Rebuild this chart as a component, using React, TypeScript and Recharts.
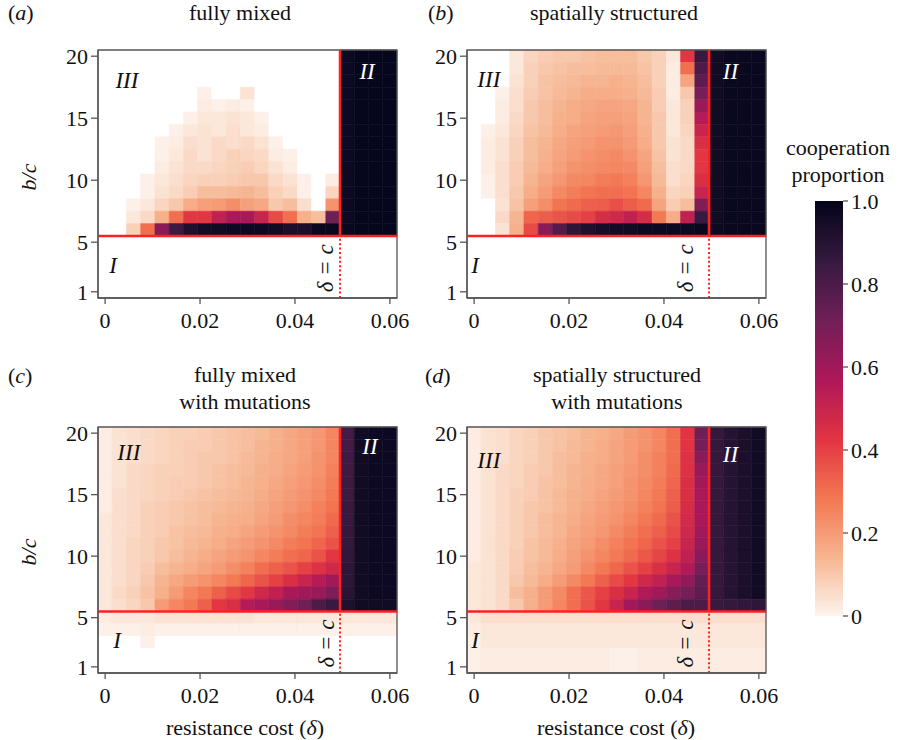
import React from 'react';
import { ComposedChart, XAxis, YAxis, ReferenceArea, ReferenceLine, ReferenceDot, Scatter } from 'recharts';

const FONT = "'Liberation Serif', 'Times New Roman', serif";
const RED = '#ff2020';
const AXIS = '#555555';

// x categories: resistance cost δ (cell centres)
const deltaValues = [0, 0.003, 0.006, 0.009, 0.012, 0.015, 0.018, 0.021, 0.024, 0.027, 0.03, 0.033, 0.036, 0.039, 0.042, 0.045, 0.048, 0.051, 0.054, 0.057, 0.06];
// y categories: b/c (top row first)
const bcValues = [20, 19, 18, 17, 16, 15, 14, 13, 12, 11, 10, 9, 8, 7, 6, 5, 4, 3, 2, 1];
const xTicks = [0, 0.02, 0.04, 0.06];
const yTicks = [1, 5, 10, 15, 20];
const colorbarTicks = [0, 0.2, 0.4, 0.6, 0.8, 1];

// cooperation proportion in percent, rows b/c = 20 .. 1, columns δ = 0 .. 0.06
const panelA: number[][] = [
  [0, 0, 0, 0, 0, 0, 0, 0, 0, 0, 0, 0, 0, 0, 0, 0, 0, 97, 99, 99, 99],
  [0, 0, 0, 0, 0, 0, 0, 0, 0, 0, 0, 0, 0, 0, 0, 0, 0, 97, 99, 99, 99],
  [0, 0, 0, 0, 0, 0, 0, 0, 0, 0, 0, 0, 0, 0, 0, 0, 0, 97, 99, 99, 99],
  [0, 0, 0, 0, 0, 0, 0, 1, 0, 0, 4, 0, 0, 0, 0, 0, 0, 97, 99, 99, 99],
  [0, 0, 0, 0, 0, 0, 0, 2, 1, 2, 1, 0, 0, 0, 0, 0, 0, 97, 99, 99, 99],
  [0, 0, 0, 0, 0, 0, 1, 3, 3, 4, 3, 1, 0, 0, 0, 0, 0, 97, 99, 99, 99],
  [0, 0, 0, 0, 0, 1, 3, 4, 3, 5, 3, 2, 0, 0, 0, 0, 0, 97, 99, 99, 99],
  [0, 0, 0, 0, 1, 2, 5, 4, 6, 5, 6, 4, 1, 0, 0, 0, 0, 97, 99, 99, 99],
  [0, 0, 0, 0, 1, 3, 6, 4, 6, 8, 7, 6, 2, 1, 0, 0, 0, 97, 99, 99, 99],
  [0, 0, 0, 0, 2, 4, 6, 6, 7, 8, 9, 7, 4, 2, 0, 0, 0, 97, 99, 99, 99],
  [0, 0, 0, 1, 3, 5, 7, 8, 8, 9, 10, 10, 6, 4, 1, 0, 2, 97, 99, 99, 99],
  [0, 0, 0, 1, 4, 6, 9, 12, 12, 13, 14, 12, 8, 6, 1, 0, 7, 97, 99, 99, 99],
  [0, 0, 1, 3, 7, 10, 16, 19, 20, 23, 19, 17, 10, 12, 5, 0, 22, 97, 99, 99, 99],
  [0, 0, 3, 6, 15, 30, 42, 42, 52, 57, 58, 50, 38, 30, 15, 12, 72, 97, 99, 99, 99],
  [0, 0, 8, 30, 65, 84, 92, 95, 96, 97, 97, 97, 96, 93, 93, 98, 98, 98, 99, 99, 99],
  [0, 0, 0, 0, 0, 0, 0, 0, 0, 0, 0, 0, 0, 0, 0, 0, 0, 0, 0, 0, 0],
  [0, 0, 0, 0, 0, 0, 0, 0, 0, 0, 0, 0, 0, 0, 0, 0, 0, 0, 0, 0, 0],
  [0, 0, 0, 0, 0, 0, 0, 0, 0, 0, 0, 0, 0, 0, 0, 0, 0, 0, 0, 0, 0],
  [0, 0, 0, 0, 0, 0, 0, 0, 0, 0, 0, 0, 0, 0, 0, 0, 0, 0, 0, 0, 0],
  [0, 0, 0, 0, 0, 0, 0, 0, 0, 0, 0, 0, 0, 0, 0, 0, 0, 0, 0, 0, 0],
];

const panelB: number[][] = [
  [0, 0, 0, 3, 7, 9, 10, 10, 11, 12, 12, 12, 10, 8, 3, 42, 85, 96, 98, 98, 98],
  [0, 0, 0, 3, 8, 10, 11, 12, 12, 13, 13, 13, 11, 8, 2, 30, 80, 96, 98, 98, 98],
  [0, 0, 0, 4, 8, 11, 12, 13, 14, 14, 15, 14, 12, 8, 2, 18, 76, 96, 98, 98, 98],
  [0, 0, 1, 5, 9, 11, 13, 14, 16, 16, 16, 15, 13, 9, 2, 10, 70, 96, 98, 98, 98],
  [0, 0, 2, 5, 10, 12, 14, 16, 17, 18, 18, 17, 14, 9, 3, 8, 62, 96, 98, 98, 98],
  [0, 0, 2, 6, 10, 12, 15, 16, 18, 19, 19, 18, 14, 10, 3, 8, 55, 96, 98, 98, 98],
  [0, 1, 3, 7, 11, 13, 16, 18, 19, 20, 21, 19, 15, 10, 3, 7, 50, 96, 98, 98, 98],
  [0, 2, 4, 8, 12, 14, 17, 19, 20, 22, 22, 20, 16, 10, 4, 6, 45, 96, 98, 98, 98],
  [0, 2, 4, 8, 12, 15, 18, 20, 22, 23, 24, 22, 18, 11, 4, 6, 42, 96, 98, 98, 98],
  [0, 2, 5, 9, 13, 16, 19, 22, 23, 24, 25, 24, 19, 12, 5, 6, 42, 96, 98, 98, 98],
  [0, 1, 5, 9, 14, 18, 21, 24, 25, 27, 28, 26, 21, 13, 5, 7, 45, 96, 98, 98, 98],
  [0, 1, 5, 10, 16, 20, 24, 27, 29, 30, 30, 29, 25, 15, 7, 8, 50, 96, 98, 98, 98],
  [0, 0, 4, 11, 19, 23, 29, 31, 33, 34, 37, 34, 31, 18, 9, 12, 68, 96, 98, 98, 98],
  [0, 0, 6, 14, 32, 34, 36, 38, 40, 46, 48, 52, 46, 28, 16, 52, 85, 96, 98, 98, 98],
  [0, 0, 4, 15, 38, 65, 78, 88, 92, 94, 95, 96, 97, 97, 97, 97, 98, 97, 98, 98, 98],
  [0, 0, 0, 0, 0, 0, 0, 0, 0, 0, 0, 0, 0, 0, 0, 0, 0, 0, 0, 0, 0],
  [0, 0, 0, 0, 0, 0, 0, 0, 0, 0, 0, 0, 0, 0, 0, 0, 0, 0, 0, 0, 0],
  [0, 0, 0, 0, 0, 0, 0, 0, 0, 0, 0, 0, 0, 0, 0, 0, 0, 0, 0, 0, 0],
  [0, 0, 0, 0, 0, 0, 0, 0, 0, 0, 0, 0, 0, 0, 0, 0, 0, 0, 0, 0, 0],
  [0, 0, 0, 0, 0, 0, 0, 0, 0, 0, 0, 0, 0, 0, 0, 0, 0, 0, 0, 0, 0],
];

const panelC: number[][] = [
  [2, 4, 5, 6, 7, 8, 8, 9, 10, 11, 12, 13, 15, 17, 19, 21, 25, 82, 96, 97, 97],
  [2, 4, 5, 6, 7, 8, 9, 9, 10, 11, 12, 14, 15, 17, 19, 21, 25, 82, 96, 97, 97],
  [2, 4, 5, 6, 7, 8, 9, 10, 10, 11, 13, 14, 16, 17, 19, 22, 25, 83, 96, 97, 97],
  [2, 4, 6, 7, 8, 8, 9, 10, 11, 12, 13, 15, 16, 18, 20, 22, 26, 83, 96, 97, 97],
  [2, 4, 6, 7, 8, 9, 9, 10, 11, 12, 14, 15, 17, 19, 21, 23, 27, 84, 96, 97, 97],
  [2, 5, 6, 7, 8, 9, 10, 11, 12, 13, 14, 16, 18, 20, 22, 24, 28, 84, 96, 97, 97],
  [2, 5, 6, 8, 9, 10, 11, 12, 13, 14, 15, 17, 19, 21, 23, 26, 29, 85, 96, 97, 97],
  [3, 5, 6, 8, 9, 10, 11, 12, 14, 15, 16, 18, 20, 23, 25, 27, 31, 85, 96, 97, 97],
  [3, 5, 6, 8, 9, 11, 12, 13, 15, 16, 18, 20, 22, 24, 27, 29, 33, 86, 96, 97, 97],
  [3, 5, 7, 8, 10, 11, 13, 14, 16, 18, 20, 22, 24, 27, 29, 32, 36, 86, 96, 97, 97],
  [3, 5, 7, 8, 10, 12, 14, 16, 18, 20, 22, 25, 27, 30, 32, 36, 42, 87, 96, 97, 97],
  [3, 5, 7, 9, 12, 14, 16, 18, 20, 23, 26, 30, 33, 36, 40, 44, 48, 88, 96, 97, 97],
  [3, 5, 7, 10, 14, 17, 20, 22, 25, 28, 32, 36, 40, 45, 50, 55, 60, 88, 96, 97, 97],
  [3, 6, 8, 11, 15, 20, 25, 28, 33, 38, 42, 48, 52, 58, 60, 62, 68, 89, 96, 97, 97],
  [3, 5, 7, 10, 20, 25, 28, 33, 42, 45, 55, 58, 62, 67, 72, 80, 85, 92, 96, 96, 96],
  [2, 3, 3, 3, 4, 4, 4, 4, 4, 4, 4, 3, 3, 3, 3, 3, 3, 3, 3, 3, 3],
  [1, 1, 1, 2, 1, 1, 1, 1, 1, 1, 1, 1, 1, 1, 1, 1, 1, 1, 1, 1, 1],
  [0, 0, 0, 1, 0, 0, 0, 0, 0, 0, 0, 0, 0, 0, 0, 0, 0, 0, 0, 0, 0],
  [0, 0, 0, 0, 0, 0, 0, 0, 0, 0, 0, 0, 0, 0, 0, 0, 0, 0, 0, 0, 0],
  [0, 0, 0, 0, 0, 0, 0, 0, 0, 0, 0, 0, 0, 0, 0, 0, 0, 0, 0, 0, 0],
];

const panelD: number[][] = [
  [2, 4, 5, 7, 8, 10, 11, 12, 14, 15, 17, 20, 22, 25, 30, 43, 72, 86, 90, 93, 96],
  [2, 4, 5, 7, 8, 10, 11, 13, 14, 16, 18, 20, 22, 25, 30, 43, 70, 86, 90, 93, 96],
  [2, 4, 5, 7, 8, 10, 12, 13, 15, 16, 18, 20, 23, 26, 30, 44, 66, 86, 90, 93, 96],
  [2, 4, 6, 7, 9, 10, 12, 14, 15, 17, 19, 21, 23, 26, 31, 44, 62, 86, 90, 93, 96],
  [2, 4, 6, 7, 9, 11, 12, 14, 16, 17, 19, 22, 24, 27, 32, 45, 60, 86, 90, 93, 96],
  [2, 4, 6, 8, 9, 11, 13, 15, 16, 18, 20, 22, 25, 28, 33, 45, 58, 86, 90, 93, 96],
  [2, 4, 6, 8, 10, 11, 13, 15, 17, 19, 21, 23, 26, 29, 34, 46, 58, 86, 90, 93, 96],
  [2, 4, 6, 8, 10, 12, 14, 16, 18, 20, 22, 25, 28, 31, 36, 47, 58, 86, 90, 93, 96],
  [2, 4, 6, 8, 10, 12, 14, 17, 19, 21, 24, 27, 30, 33, 38, 48, 60, 86, 90, 93, 96],
  [2, 4, 6, 8, 11, 13, 15, 18, 20, 23, 26, 29, 32, 36, 40, 50, 62, 86, 90, 93, 96],
  [2, 4, 6, 9, 11, 13, 16, 19, 22, 25, 28, 31, 35, 39, 44, 52, 65, 86, 90, 93, 96],
  [3, 4, 6, 9, 12, 14, 17, 20, 24, 28, 32, 36, 40, 45, 50, 56, 70, 86, 90, 93, 96],
  [3, 4, 6, 10, 13, 16, 20, 24, 28, 33, 38, 42, 48, 52, 58, 64, 74, 86, 90, 93, 96],
  [3, 4, 6, 12, 15, 20, 24, 30, 35, 40, 45, 50, 56, 60, 66, 70, 76, 86, 90, 93, 96],
  [3, 4, 6, 10, 15, 20, 25, 30, 36, 42, 50, 60, 65, 72, 76, 80, 80, 85, 86, 87, 88],
  [3, 5, 5, 5, 5, 5, 5, 5, 5, 5, 5, 5, 5, 5, 5, 5, 5, 5, 5, 5, 5],
  [2, 3, 3, 3, 3, 3, 3, 3, 3, 3, 3, 3, 3, 3, 3, 3, 3, 3, 3, 3, 3],
  [1, 3, 3, 3, 3, 3, 3, 3, 3, 3, 3, 3, 3, 3, 3, 3, 3, 3, 3, 3, 3],
  [1, 2, 2, 2, 2, 2, 2, 2, 2, 2, 1, 1, 2, 2, 2, 2, 2, 2, 2, 2, 2],
  [1, 2, 2, 2, 2, 2, 2, 2, 2, 2, 1, 1, 2, 2, 2, 2, 2, 2, 2, 2, 2],
];

// colour map (reversed "rocket")
const cmapStops: [number, string][] = [
  [0, '#fdf5ef'],
  [0.143, '#f6b48f'],
  [0.286, '#f37651'],
  [0.429, '#e13342'],
  [0.571, '#ad1759'],
  [0.714, '#701f57'],
  [0.857, '#35193e'],
  [1, '#03051a'],
];

function hexToRgb(h: string): number[] {
  const n = parseInt(h.slice(1), 16);
  return [(n >> 16) & 255, (n >> 8) & 255, n & 255];
}

function colorFor(v: number): string {
  if (v <= 0) return '#ffffff';
  const t = Math.min(1, v);
  for (let i = 1; i < cmapStops.length; i++) {
    const [o1, c1] = cmapStops[i - 1];
    const [o2, c2] = cmapStops[i];
    if (t <= o2) {
      const f = (t - o1) / (o2 - o1);
      const a = hexToRgb(c1);
      const b = hexToRgb(c2);
      const r = a.map((x, k) => Math.round(x + (b[k] - x) * f));
      return `rgb(${r[0]},${r[1]},${r[2]})`;
    }
  }
  return cmapStops[cmapStops.length - 1][1];
}

const halfW = (deltaValues[1] - deltaValues[0]) / 2;
const halfH = (bcValues[0] - bcValues[1]) / 2;
const xDomain: [number, number] = [deltaValues[0] - halfW, deltaValues[deltaValues.length - 1] + halfW];
const yDomain: [number, number] = [bcValues[bcValues.length - 1] - halfH, bcValues[0] + halfH];
const boundaryDelta = (deltaValues[16] + deltaValues[17]) / 2;
const boundaryBC = (bcValues[14] + bcValues[15]) / 2;

const tickStyle = { fill: '#111', fontSize: 22, fontFamily: FONT };
const emptyShape = () => <g />;

type LabelPos = { three: [number, number]; two: [number, number]; one: [number, number]; dc: [number, number] };

function Heatmap({ grid, plotLeft, plotTop, plotHeight, labels }: { grid: number[][]; plotLeft: number; plotTop: number; plotHeight: number; labels: LabelPos }) {
  const yAxisW = 50;
  const xAxisH = 40;
  const mTop = 10;
  const mRight = 24;
  const plotWidth = 299;
  const cells: { x: number; y: number; v: number }[] = [];
  grid.forEach((row, i) => row.forEach((v, j) => cells.push({ x: deltaValues[j], y: bcValues[i], v: v / 100 })));
  const numeral = (value: string, pos: [number, number], fill: string) => (
    <ReferenceDot
      x={pos[0]}
      y={pos[1]}
      r={1}
      fill="none"
      stroke="none"
      ifOverflow="visible"
      label={{ value, position: 'center', fill, fontSize: 23, fontStyle: 'italic', fontFamily: FONT }}
    />
  );
  return (
    <div style={{ position: 'absolute', left: plotLeft - yAxisW, top: plotTop - mTop }}>
      <ComposedChart
        width={yAxisW + plotWidth + mRight}
        height={mTop + plotHeight + xAxisH}
        margin={{ top: mTop, right: mRight, bottom: 0, left: 0 }}
      >
        <XAxis
          type="number"
          dataKey="x"
          domain={xDomain}
          ticks={xTicks}
          interval={0}
          allowDataOverflow
          height={xAxisH}
          tickSize={6}
          tickMargin={8}
          tick={tickStyle}
          tickFormatter={(v: number) => (v === 0 ? '0' : v.toFixed(2))}
          axisLine={{ stroke: AXIS, strokeWidth: 1.3 }}
          tickLine={{ stroke: AXIS, strokeWidth: 1.3 }}
        />
        <YAxis
          type="number"
          dataKey="y"
          domain={yDomain}
          ticks={yTicks}
          interval={0}
          allowDataOverflow
          width={yAxisW}
          tickSize={7}
          tickMargin={3}
          tick={tickStyle}
          axisLine={{ stroke: AXIS, strokeWidth: 1.3 }}
          tickLine={{ stroke: AXIS, strokeWidth: 1.3 }}
        />
        {cells.map((c, k) => {
          const col = colorFor(c.v);
          return (
            <ReferenceArea
              key={k}
              x1={c.x - halfW}
              x2={c.x + halfW}
              y1={c.y - halfH}
              y2={c.y + halfH}
              fill={col}
              fillOpacity={1}
              stroke={col}
              strokeWidth={0.6}
              ifOverflow="visible"
            />
          );
        })}
        <ReferenceArea
          x1={xDomain[0]}
          x2={xDomain[1]}
          y1={yDomain[0]}
          y2={yDomain[1]}
          fill="none"
          stroke={AXIS}
          strokeWidth={1.3}
          ifOverflow="visible"
        />
        <ReferenceLine y={boundaryBC} stroke={RED} strokeWidth={2.6} ifOverflow="visible" />
        <ReferenceLine
          segment={[{ x: boundaryDelta, y: boundaryBC }, { x: boundaryDelta, y: yDomain[1] }]}
          stroke={RED}
          strokeWidth={2.6}
          ifOverflow="visible"
        />
        <ReferenceLine
          segment={[{ x: boundaryDelta, y: yDomain[0] }, { x: boundaryDelta, y: boundaryBC }]}
          stroke={RED}
          strokeWidth={2}
          strokeDasharray="2 2.4"
          ifOverflow="visible"
        />
        <Scatter data={cells} dataKey="y" fill="none" isAnimationActive={false} shape={emptyShape} />
        {numeral('III', labels.three, '#111')}
        {numeral('II', labels.two, '#ffffff')}
        {numeral('I', labels.one, '#111')}
        <ReferenceDot
          x={labels.dc[0]}
          y={labels.dc[1]}
          r={1}
          fill="none"
          stroke="none"
          ifOverflow="visible"
          label={{ value: 'δ = c', position: 'center', angle: -90, fill: '#111', fontSize: 23, fontStyle: 'italic', fontFamily: FONT }}
        />
      </ComposedChart>
    </div>
  );
}

function Colorbar() {
  const data = colorbarTicks.map((v) => ({ x: 0.5, y: v }));
  return (
    <div style={{ position: 'absolute', left: 800, top: 180 }}>
      <ComposedChart width={105} height={456} margin={{ top: 21, right: 0, bottom: 20, left: 15 }}>
        <defs>
          <linearGradient id="cbGrad" x1="0" y1="1" x2="0" y2="0">
            {cmapStops.map(([o, c]) => (
              <stop key={o} offset={o} stopColor={c} />
            ))}
          </linearGradient>
        </defs>
        <XAxis type="number" dataKey="x" domain={[0, 1]} hide />
        <YAxis
          type="number"
          dataKey="y"
          orientation="right"
          domain={[0, 1]}
          ticks={colorbarTicks}
          interval={0}
          width={62}
          tickSize={5}
          tickMargin={3}
          axisLine={false}
          tick={tickStyle}
          tickLine={{ stroke: AXIS, strokeWidth: 1.3 }}
          tickFormatter={(v: number) => (v === 0 ? '0' : v.toFixed(1))}
        />
        <ReferenceArea x1={0} x2={1} y1={0} y2={1} fill="url(#cbGrad)" fillOpacity={1} stroke="none" ifOverflow="visible" />
        <Scatter data={data} dataKey="y" fill="none" isAnimationActive={false} shape={emptyShape} />
      </ComposedChart>
    </div>
  );
}

function Texts() {
  const t = { fontFamily: FONT, fontSize: 22, fill: '#111' } as const;
  return (
    <svg width={905} height={740} style={{ position: 'absolute', left: 0, top: 0, pointerEvents: 'none' }}>
      <text x={8} y={20} {...t}>(<tspan fontStyle="italic">a</tspan>)</text>
      <text x={240} y={20} textAnchor="middle" {...t}>fully mixed</text>
      <text x={428} y={20} {...t}>(<tspan fontStyle="italic">b</tspan>)</text>
      <text x={614} y={20} textAnchor="middle" {...t}>spatially structured</text>

      <text x={8} y={383} {...t}>(<tspan fontStyle="italic">c</tspan>)</text>
      <text x={245} y={382} textAnchor="middle" {...t}>fully mixed</text>
      <text x={245} y={409} textAnchor="middle" {...t}>with mutations</text>
      <text x={425} y={383} {...t}>(<tspan fontStyle="italic">d</tspan>)</text>
      <text x={617} y={382} textAnchor="middle" {...t}>spatially structured</text>
      <text x={617} y={409} textAnchor="middle" {...t}>with mutations</text>

      <text transform="translate(36,177) rotate(-90)" textAnchor="middle" fontStyle="italic" {...t}>b/c</text>
      <text transform="translate(36,552) rotate(-90)" textAnchor="middle" fontStyle="italic" {...t}>b/c</text>

      <text x={245} y={735} textAnchor="middle" {...t}>resistance cost (<tspan fontStyle="italic">δ</tspan>)</text>
      <text x={616} y={735} textAnchor="middle" {...t}>resistance cost (<tspan fontStyle="italic">δ</tspan>)</text>

      <text x={838} y={155} textAnchor="middle" {...t}>cooperation</text>
      <text x={838} y={182} textAnchor="middle" {...t}>proportion</text>
    </svg>
  );
}

export default function App() {
  return (
    <div style={{ position: 'absolute', left: 0, top: 0, width: 905, height: 740, background: '#ffffff', fontFamily: FONT, overflow: 'hidden' }}>
      <Heatmap
        grid={panelA}
        plotLeft={98}
        plotTop={50}
        plotHeight={248}
        labels={{ three: [0.0046, 18.1], two: [0.0552, 18.8], one: [0.0017, 3.2], dc: [0.0462, 2.9] }}
      />
      <Heatmap
        grid={panelB}
        plotLeft={467}
        plotTop={50}
        plotHeight={248}
        labels={{ three: [0.0031, 18.2], two: [0.054, 18.8], one: [0.0002, 3.2], dc: [0.0444, 2.9] }}
      />
      <Heatmap
        grid={panelC}
        plotLeft={98}
        plotTop={427}
        plotHeight={246}
        labels={{ three: [0.005, 18.5], two: [0.0558, 19.0], one: [0.0025, 3.2], dc: [0.0465, 2.9] }}
      />
      <Heatmap
        grid={panelD}
        plotLeft={467}
        plotTop={427}
        plotHeight={246}
        labels={{ three: [0.0031, 17.8], two: [0.054, 18.3], one: [0.0002, 3.2], dc: [0.0444, 2.9] }}
      />
      <Colorbar />
      <Texts />
    </div>
  );
}
